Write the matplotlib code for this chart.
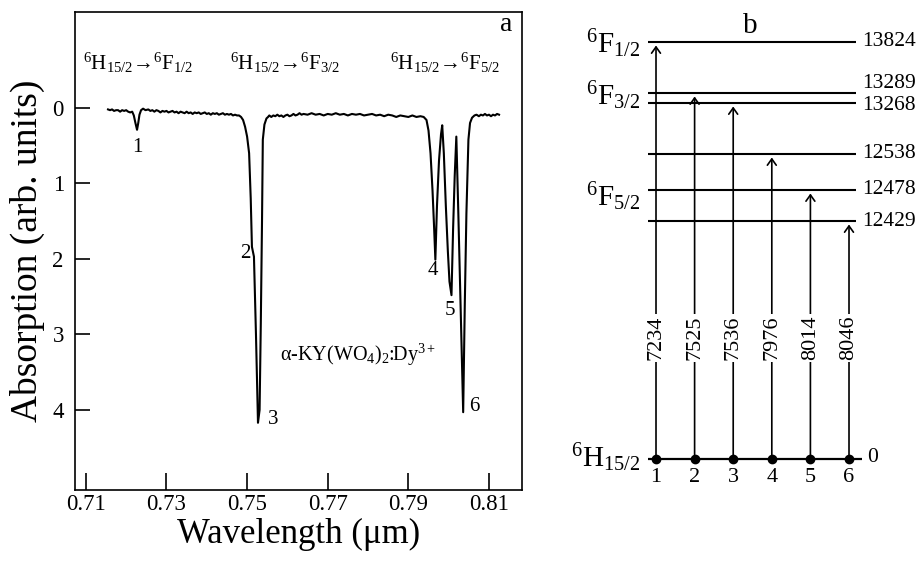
import numpy as np
import matplotlib.pyplot as plt

plt.rcParams['font.family'] = ['Liberation Serif', 'DejaVu Serif']
plt.rcParams['mathtext.fontset'] = 'custom'
plt.rcParams['mathtext.rm'] = 'Liberation Serif'
plt.rcParams['mathtext.it'] = 'Liberation Serif:italic'

# ---- panel a: absorption spectrum ----
wavelength = [
    0.7155, 0.7160, 0.7165, 0.7170, 0.7175, 0.7180, 0.7185, 0.7190, 0.7195, 0.7200,
    0.7205, 0.7210, 0.7215, 0.7219, 0.7223, 0.7227, 0.7230, 0.7233, 0.7237, 0.7242,
    0.7248, 0.7255, 0.7260, 0.7265, 0.7270, 0.7275, 0.7280, 0.7285, 0.7290, 0.7295,
    0.7300, 0.7305, 0.7310, 0.7315, 0.7320, 0.7325, 0.7330, 0.7335, 0.7340, 0.7345,
    0.7350, 0.7355, 0.7360, 0.7365, 0.7370, 0.7375, 0.7380, 0.7385, 0.7390, 0.7395,
    0.7400, 0.7405, 0.7410, 0.7415, 0.7420, 0.7425, 0.7430, 0.7435, 0.7440, 0.7445,
    0.7450, 0.7455, 0.7460, 0.7465, 0.7470, 0.7475, 0.7480, 0.7485, 0.7490, 0.7495,
    0.7500, 0.7505, 0.7509, 0.7512, 0.7517, 0.7522, 0.7527, 0.7531, 0.7534, 0.7537,
    0.7539, 0.7543, 0.7548, 0.7552, 0.7555, 0.7560, 0.7565, 0.7570, 0.7575, 0.7580,
    0.7585, 0.7590, 0.7595, 0.7600, 0.7605, 0.7610, 0.7615, 0.7620, 0.7625, 0.7630,
    0.7635, 0.7640, 0.7650, 0.7660, 0.7670, 0.7680, 0.7690, 0.7700, 0.7710, 0.7720,
    0.7730, 0.7740, 0.7750, 0.7760, 0.7770, 0.7780, 0.7790, 0.7800, 0.7810, 0.7820,
    0.7830, 0.7840, 0.7850, 0.7860, 0.7870, 0.7880, 0.7890, 0.7900, 0.7910, 0.7920,
    0.7930, 0.7938, 0.7945, 0.7950, 0.7955, 0.7960, 0.7964, 0.7967, 0.7971, 0.7976,
    0.7981, 0.7984, 0.7988, 0.7993, 0.7998, 0.8002, 0.8007, 0.8011, 0.8015, 0.8019,
    0.8024, 0.8029, 0.8033, 0.8036, 0.8040, 0.8044, 0.8049, 0.8053, 0.8058, 0.8064,
    0.8069, 0.8075, 0.8080, 0.8085, 0.8090, 0.8095, 0.8100, 0.8105, 0.8110, 0.8115,
    0.8120, 0.8125,
]
absorption = [
    0.02, 0.03, 0.02, 0.04, 0.03, 0.03, 0.05, 0.03, 0.04, 0.03,
    0.05, 0.06, 0.05, 0.10, 0.20, 0.29, 0.20, 0.09, 0.03, 0.01,
    0.03, 0.02, 0.04, 0.03, 0.05, 0.03, 0.04, 0.06, 0.04, 0.05,
    0.04, 0.06, 0.05, 0.04, 0.06, 0.05, 0.07, 0.05, 0.06, 0.07,
    0.05, 0.07, 0.06, 0.08, 0.06, 0.07, 0.06, 0.08, 0.07, 0.06,
    0.08, 0.07, 0.09, 0.07, 0.08, 0.07, 0.09, 0.08, 0.07, 0.09,
    0.08, 0.09, 0.08, 0.10, 0.09, 0.10, 0.10, 0.12, 0.16, 0.25,
    0.38, 0.60, 1.20, 1.84, 1.97, 3.00, 4.17, 4.00, 2.85, 1.50,
    0.42, 0.22, 0.14, 0.12, 0.10, 0.12, 0.10, 0.11, 0.09, 0.11,
    0.10, 0.12, 0.10, 0.09, 0.11, 0.10, 0.08, 0.10, 0.09, 0.07,
    0.09, 0.08, 0.09, 0.07, 0.09, 0.08, 0.10, 0.08, 0.09, 0.07,
    0.09, 0.08, 0.10, 0.08, 0.09, 0.08, 0.10, 0.09, 0.08, 0.10,
    0.09, 0.11, 0.09, 0.10, 0.12, 0.10, 0.11, 0.12, 0.10, 0.12,
    0.11, 0.12, 0.16, 0.30, 0.60, 1.10, 1.60, 2.01, 1.30, 0.70,
    0.35, 0.23, 0.60, 1.30, 1.90, 2.30, 2.48, 1.60, 0.90, 0.38,
    1.40, 2.50, 3.40, 4.03, 2.60, 1.40, 0.42, 0.20, 0.13, 0.10,
    0.09, 0.11, 0.09, 0.10, 0.08, 0.10, 0.09, 0.11, 0.09, 0.10,
    0.08, 0.09,
]
xticks = [0.71, 0.73, 0.75, 0.77, 0.79, 0.81]
yticks = [0, 1, 2, 3, 4]
band_labels = [r'$^6$H$_{15/2}$→$^6$F$_{1/2}$',
               r'$^6$H$_{15/2}$→$^6$F$_{3/2}$',
               r'$^6$H$_{15/2}$→$^6$F$_{5/2}$']
peak_names = ['1', '2', '3', '4', '5', '6']
crystal = r'α-KY(WO$_4$)$_2$:Dy$^{3+}$'

# ---- panel b: energy levels (cm-1) ----
levels = [13824, 13289, 13268, 12538, 12478, 12429]
transitions = [7234, 7525, 7536, 7976, 8014, 8046]
multiplets = [r'$^6$F$_{1/2}$', r'$^6$F$_{3/2}$', r'$^6$F$_{5/2}$']
ground_name = r'$^6$H$_{15/2}$'

# layout only (schematic heights, label spots)
level_row = [41.7, 36.6, 35.6, 30.5, 26.9, 23.8]
level_txt_shift = [0, 0.9, -0.25, 0, 0, 0]
multiplet_row = [41.5, 36.3, 26.2]
band_xpos = [0.018, 0.347, 0.705]
peak_pos = [(0.72266, 0.52), (0.74945, 1.93), (0.75640, 4.13),
            (0.79620, 2.15), (0.80042, 2.68), (0.80638, 3.95)]

fig = plt.figure(figsize=(9.22, 5.61), dpi=100)

ax = fig.add_axes([0.0813, 0.1266, 0.4849, 0.852])
ax.plot(wavelength, absorption, color='k', lw=1.5)
ax.set_xlim(0.7073, 0.8182)
ax.set_ylim(5.06, -1.27)
ax.set_xticks(xticks)
ax.set_xticklabels(['%.2f' % v for v in xticks])
ax.set_yticks(yticks)
ax.tick_params(axis='x', direction='in', length=12, width=1.2, pad=3, labelsize=16.5)
ax.tick_params(axis='y', direction='in', length=10.8, width=1.2, pad=8, labelsize=16.5)
for s in ax.spines.values():
    s.set_linewidth(1.2)
ax.set_xlabel('Wavelength (μm)', fontsize=25, labelpad=2)
ax.set_ylabel('Absorption (arb. units)', fontsize=27, labelpad=5)

for lab, xp in zip(band_labels, band_xpos):
    ax.text(xp, 0.893, lab, transform=ax.transAxes, ha='left', va='center', fontsize=15)
ax.text(0.964, 0.973, 'a', transform=ax.transAxes, ha='center', va='center', fontsize=20)
ax.text(0.459, 0.282, crystal, transform=ax.transAxes, ha='left', va='center', fontsize=14.5)
for name, (px, py) in zip(peak_names, peak_pos):
    ax.text(px, py, name, ha='center', va='center', fontsize=15)

# energy level diagram
axb = fig.add_axes([600 / 922, 0, 322 / 922, 1])
axb.set_xlim(-0.451, 7.891)
axb.set_ylim(-10.2, 45.9)
axb.axis('off')

idx = np.arange(1, len(transitions) + 1)
axb.hlines(level_row, 0.79, 6.18, color='k', lw=1.5)
axb.hlines(0, 0.79, 6.34, color='k', lw=1.6)
for i, row in zip(idx, level_row):
    axb.annotate('', xy=(i, row - 0.35), xytext=(i, 0),
                 arrowprops=dict(arrowstyle='->,head_length=0.45,head_width=0.32',
                                 lw=1.2, color='k', shrinkA=0, shrinkB=0))
for i, t in zip(idx, transitions):
    axb.text(i, 12.1, str(t), rotation=90, ha='center', va='center', fontsize=16,
             zorder=5, bbox=dict(fc='white', ec='none', pad=1))
    axb.text(i, -1.9, str(i), ha='center', va='center', fontsize=16)
axb.plot(idx, np.zeros(len(idx)), 'ko', ms=6, zorder=6)

for e, row, sh in zip(levels, level_row, level_txt_shift):
    axb.text(6.34, row + sh, str(e), ha='left', va='center', fontsize=15.5)
axb.text(6.47, 0.1, '0', ha='left', va='center', fontsize=15.5)

for m, row in zip(multiplets, multiplet_row):
    axb.text(0.585, row, m, ha='right', va='center', fontsize=21)
axb.text(0.585, 0.1, ground_name, ha='right', va='center', fontsize=21)
axb.text(3.44, 43.3, 'b', ha='center', va='center', fontsize=21)

fig.savefig('out.png', dpi=100)
